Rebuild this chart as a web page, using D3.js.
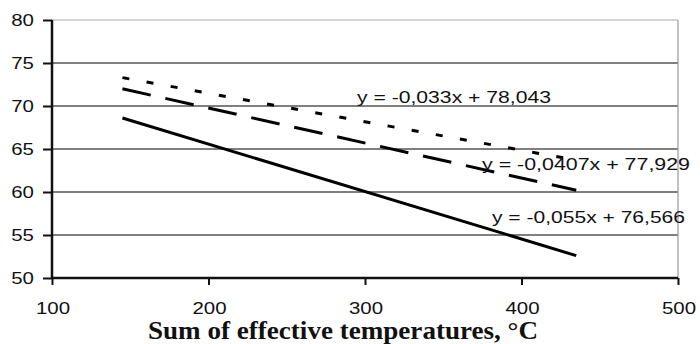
<!DOCTYPE html>
<html>
<head>
<meta charset="utf-8">
<script src="https://cdn.jsdelivr.net/npm/d3@7"></script>
<style>
  html, body { margin: 0; padding: 0; background: #fff; }
  svg { display: block; }
</style>
</head>
<body>
<svg id="chart" width="700" height="344"></svg>
<script>
// ---- data ----
const xTicks = [100, 200, 300, 400, 500];
const yTicks = [50, 55, 60, 65, 70, 75, 80];
const xValues = [145, 435];
const seriesNames = ["dotted", "dashed", "solid"];
const dottedValues = [73.3, 63.7];
const dashedValues = [72.0, 60.2];
const solidValues = [68.6, 52.6];
const equationLabels = ["y = -0,033x + 78,043", "y = -0,0407x + 77,929", "y = -0,055x + 76,566"];
const xTitle = "Sum of effective temperatures, °C";

// ---- layout ----
const svg = d3.select("#chart");
const x = d3.scaleLinear().domain([100, 500]).range([52, 678]);
const y = d3.scaleLinear().domain([50, 80]).range([278, 20]);
const SX = 1.24; // horizontal stretch of the sans text
const sansFont = "'Liberation Sans', Arial, sans-serif";

function stretchedText(g, px, py, str, anchor, size) {
  const t = g.append("g").attr("transform", `translate(${px},${py})`)
    .append("text")
    .attr("transform", `scale(${SX},1)`)
    .attr("text-anchor", anchor)
    .attr("font-family", sansFont)
    .attr("font-size", size)
    .attr("fill", "#111")
    .text(str);
  return t;
}

// gridlines
const grid = svg.append("g");
grid.selectAll("line").data(yTicks.filter(d => d !== 50)).join("line")
  .attr("x1", x(100)).attr("x2", x(500))
  .attr("y1", d => y(d)).attr("y2", d => y(d))
  .attr("stroke", d => d === 80 ? "#aaa" : "#555")
  .attr("stroke-width", d => d === 80 ? 1.2 : 1.5);

// right border
svg.append("line")
  .attr("x1", x(500)).attr("x2", x(500))
  .attr("y1", y(80)).attr("y2", y(50))
  .attr("stroke", "#999").attr("stroke-width", 1.2);

// axes
const yAxis = d3.axisLeft(y).tickValues(yTicks).tickSize(9).tickFormat("");
const xAxis = d3.axisBottom(x).tickValues(xTicks).tickSize(7).tickFormat("");
const gy = svg.append("g").attr("transform", `translate(${x(100)},0)`).call(yAxis);
const gx = svg.append("g").attr("transform", `translate(0,${y(50)})`).call(xAxis);
[gy, gx].forEach(g => {
  g.select(".domain").attr("stroke", "#111").attr("stroke-width", 2.5);
  g.selectAll(".tick line").attr("stroke", "#111").attr("stroke-width", 2);
});
gy.select(".domain").attr("d", `M0,${y(80)}V${y(50)}`);
gx.select(".domain").attr("d", `M${x(100)},0H${x(500)}`);

// tick labels
const labels = svg.append("g");
yTicks.forEach(v => stretchedText(labels, 34, y(v) + 6, String(v), "end", 16.5));
xTicks.forEach(v => stretchedText(labels, x(v) + 1, 314, String(v), "middle", 16.5));

// lines
const seriesValues = { dotted: dottedValues, dashed: dashedValues, solid: solidValues };
const dashes = { dotted: "7,17.5", dashed: "29,15", solid: null };
const line = d3.line().x(d => x(d[0])).y(d => y(d[1]));
seriesNames.forEach(name => {
  const pts = xValues.map((xv, i) => [xv, seriesValues[name][i]]);
  svg.append("path")
    .attr("d", line(pts))
    .attr("fill", "none")
    .attr("stroke", "#000")
    .attr("stroke-width", 3)
    .attr("stroke-dasharray", dashes[name]);
});

// equation labels
const eqPos = [[357, 103, 194], [482, 170, 208], [492, 223, 193]];
const eqG = svg.append("g");
equationLabels.forEach((s, i) => {
  eqG.append("text")
    .attr("x", eqPos[i][0]).attr("y", eqPos[i][1])
    .attr("font-family", sansFont)
    .attr("font-size", 16.5)
    .attr("fill", "#111")
    .attr("textLength", eqPos[i][2])
    .attr("lengthAdjust", "spacingAndGlyphs")
    .text(s);
});

// x title
svg.append("text")
  .attr("x", 148).attr("y", 339)
  .attr("font-family", "'Liberation Serif', 'DejaVu Serif', serif")
  .attr("font-weight", "bold")
  .attr("font-size", 25)
  .attr("fill", "#111")
  .attr("textLength", 390)
  .attr("lengthAdjust", "spacingAndGlyphs")
  .text(xTitle);
</script>
</body>
</html>
